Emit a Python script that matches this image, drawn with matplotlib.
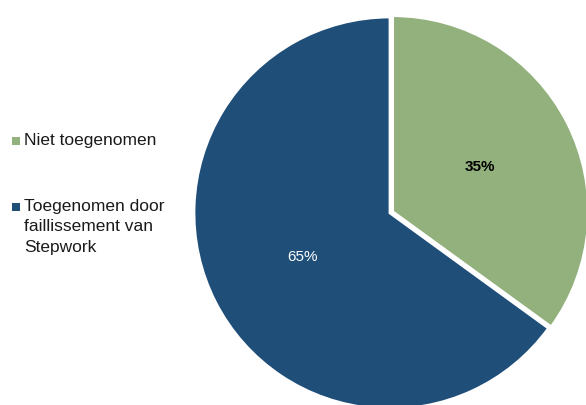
import matplotlib.pyplot as plt
from matplotlib.patches import Rectangle

labels = ["Niet toegenomen", "Toegenomen door\nfaillissement van\nStepwork"]
shares = [35, 65]
colors = ["#93B17D", "#1F4E79"]
pct_colors = ["black", "white"]
pct_weights = ["bold", "normal"]

plt.rcParams['font.family'] = ['Liberation Sans', 'DejaVu Sans']

fig = plt.figure(figsize=(5.86, 4.05), dpi=100)
W, H = 586, 405
cx, cy, r = 390, 213, 196
ax = fig.add_axes([(cx - r) / W, (H - cy - r) / H, 2 * r / W, 2 * r / H])

wedges, texts, autotexts = ax.pie(
    shares, colors=colors, startangle=90, counterclock=False,
    explode=[0.015, 0], autopct="%d%%", pctdistance=0.5,
    wedgeprops=dict(edgecolor="white", linewidth=2),
    textprops=dict(fontsize=11))
for t, c, w in zip(autotexts, pct_colors, pct_weights):
    t.set_color(c)
    t.set_fontweight(w)
ax.set_xlim(-1, 1)
ax.set_ylim(-1, 1)
ax.axis("off")

# legend drawn by hand so the marker sits on the first text line
legend_y = [141, 207]
for lab, col, y in zip(labels, colors, legend_y):
    fig.patches.append(Rectangle((12 / W, 1 - (y + 4) / H), 8 / W, 8 / H,
                                 transform=fig.transFigure, facecolor=col,
                                 edgecolor="none"))
    fig.text(24 / W, 1 - (y - 8) / H, lab, ha="left", va="top",
             fontsize=12.5, color="#1a1a1a", linespacing=1.45)

fig.savefig("out.png", dpi=100)
